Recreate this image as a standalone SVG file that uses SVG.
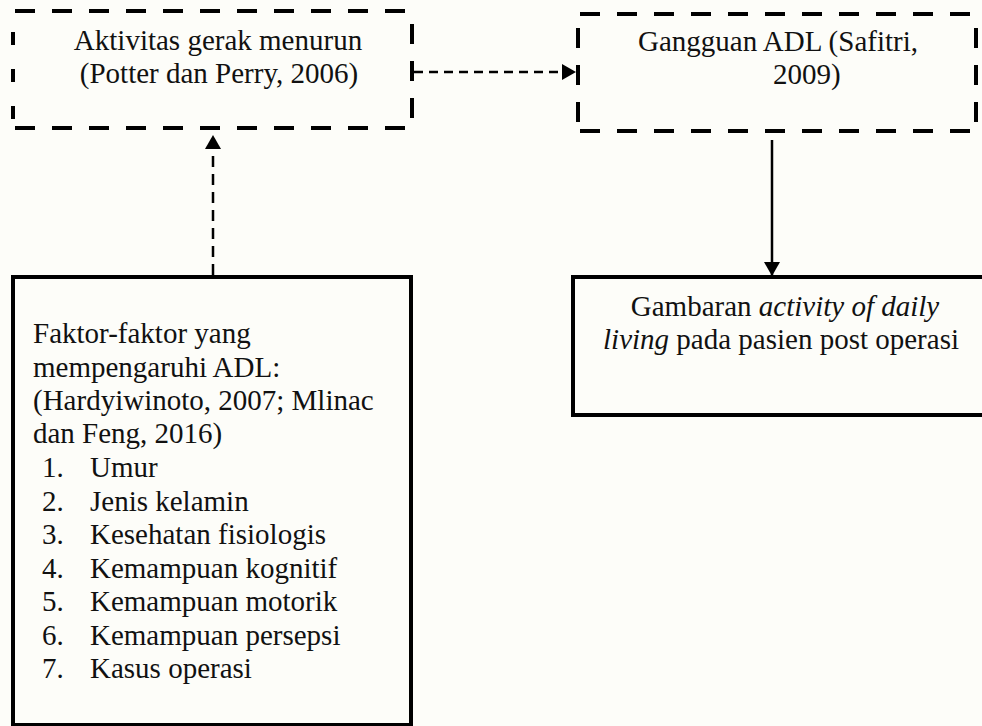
<svg xmlns="http://www.w3.org/2000/svg" width="982" height="726" viewBox="0 0 982 726">
<defs>
<style>
.t{font-family:"Liberation Serif","Times New Roman",serif;font-size:29px;fill:#111}
.c{text-anchor:middle}
.i{font-style:italic}
.dh{stroke:#000;stroke-width:4;stroke-dasharray:20 17;fill:none}
.dvl{stroke:#000;stroke-width:4;fill:none}
.solid{stroke:#000;stroke-width:4;fill:none}
.conn{stroke:#000;stroke-width:2.5;fill:none}
</style>
<marker id="ah" viewBox="0 0 14 16" refX="14" refY="8" markerWidth="14" markerHeight="16" orient="auto" markerUnits="userSpaceOnUse">
<path d="M0,0 L14,8 L0,16 Z" fill="#000"/>
</marker>
</defs>
<rect x="0" y="0" width="982" height="726" fill="#fdfdf9"/>

<g id="node-aktivitas">
<line class="dh" x1="15" y1="11" x2="410" y2="11"/>
<line class="dh" x1="15" y1="128" x2="410" y2="128"/>
<line class="dvl" x1="13" y1="32" x2="13" y2="120" stroke-dasharray="13 24"/>
<line class="dvl" x1="412" y1="24" x2="412" y2="118" stroke-dasharray="20 17"/>
<text class="t c" x="218" y="50">Aktivitas gerak menurun</text>
<text class="t c" x="219" y="83">(Potter dan Perry, 2006)</text>
</g>

<g id="node-gangguan">
<line class="dh" x1="580" y1="14" x2="978" y2="14"/>
<line class="dh" x1="580" y1="131" x2="978" y2="131"/>
<line class="dvl" x1="578" y1="28" x2="578" y2="123" stroke-dasharray="20 17"/>
<line class="dvl" x1="976" y1="28" x2="976" y2="123" stroke-dasharray="20 17"/>
<text class="t c" x="778" y="51">Gangguan ADL (Safitri,</text>
<text class="t" x="773" y="84">2009)</text>
</g>

<g id="node-faktor">
<rect class="solid" x="13" y="277" width="398" height="448"/>
<text class="t" x="33" y="343">Faktor-faktor yang</text>
<text class="t" x="33" y="377">mempengaruhi ADL:</text>
<text class="t" x="33" y="410">(Hardyiwinoto, 2007; Mlinac</text>
<text class="t" x="33" y="443">dan Feng, 2016)</text>
<text class="t" x="42" y="477">1.</text><text class="t" x="90" y="477">Umur</text>
<text class="t" x="42" y="511">2.</text><text class="t" x="90" y="511">Jenis kelamin</text>
<text class="t" x="42" y="544">3.</text><text class="t" x="90" y="544">Kesehatan fisiologis</text>
<text class="t" x="42" y="578">4.</text><text class="t" x="90" y="578">Kemampuan kognitif</text>
<text class="t" x="42" y="611">5.</text><text class="t" x="90" y="611">Kemampuan motorik</text>
<text class="t" x="42" y="645">6.</text><text class="t" x="90" y="645">Kemampuan persepsi</text>
<text class="t" x="42" y="678">7.</text><text class="t" x="90" y="678">Kasus operasi</text>
</g>

<g id="node-gambaran">
<rect class="solid" x="573" y="277" width="414" height="138"/>
<text class="t c" x="785" y="316">Gambaran <tspan class="i">activity of daily</tspan></text>
<text class="t c" x="781" y="349"><tspan class="i">living</tspan> pada pasien post operasi</text>
</g>

<g id="connectors">
<line class="conn" x1="414" y1="72" x2="576" y2="72" stroke-dasharray="9 6" marker-end="url(#ah)"/>
<line class="conn" x1="213" y1="275" x2="213" y2="135" stroke-dasharray="11 7" marker-end="url(#ah)"/>
<line class="conn" x1="772" y1="140" x2="772" y2="276" marker-end="url(#ah)"/>
</g>
</svg>
